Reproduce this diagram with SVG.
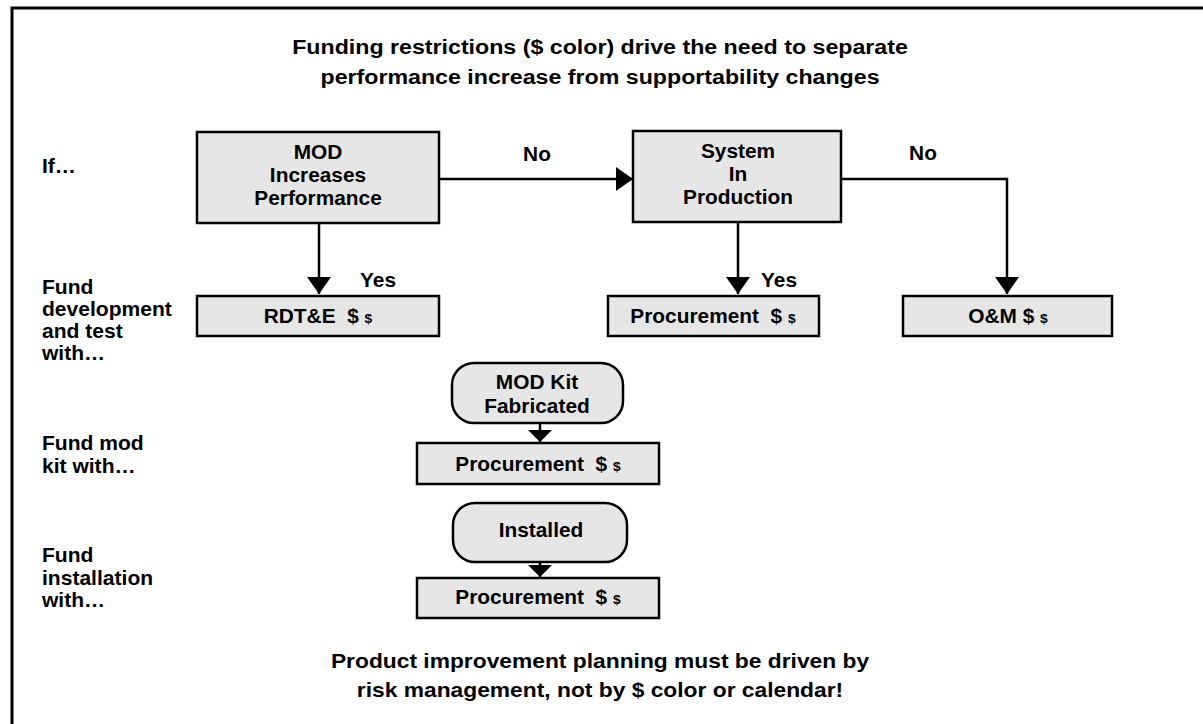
<svg xmlns="http://www.w3.org/2000/svg" width="1203" height="724" viewBox="0 0 1203 724">
<style>
text{font-family:"Liberation Sans",Arial,sans-serif;font-weight:bold;fill:#000;font-size:19.5px}
.c{text-anchor:middle}
.t{font-size:20px}
.box{fill:#e6e6e6;stroke:#000;stroke-width:2.5}
.ln{fill:none;stroke:#000;stroke-width:2.5}
.sm{font-size:13px}
</style>
<defs>
<marker id="ah" viewBox="0 0 17 24" refX="17" refY="12" markerWidth="17" markerHeight="24" markerUnits="userSpaceOnUse" orient="auto">
<path d="M0,0 L17,12 L0,24 Z" fill="#000"/>
</marker>
<marker id="ahs" viewBox="0 0 12 24" refX="12" refY="12" markerWidth="12" markerHeight="24" markerUnits="userSpaceOnUse" orient="auto">
<path d="M0,0 L12,12 L0,24 Z" fill="#000"/>
</marker>
</defs>
<rect x="12" y="8" width="1200" height="730" fill="#fff" stroke="#000" stroke-width="3"/>

<g id="title">
<text class="c t" transform="translate(600,54) scale(1.16,1)">Funding restrictions ($ color) drive the need to separate</text>
<text class="c t" transform="translate(600,84) scale(1.16,1)">performance increase from supportability changes</text>
</g>

<g id="side-labels">
<text transform="translate(42,173) scale(1.08,1)">If…</text>
<text transform="translate(42,294) scale(1.08,1)">Fund</text>
<text transform="translate(42,316) scale(1.08,1)">development</text>
<text transform="translate(42,338) scale(1.08,1)">and test</text>
<text transform="translate(42,360) scale(1.08,1)">with…</text>
<text transform="translate(42,450) scale(1.08,1)">Fund mod</text>
<text transform="translate(42,473) scale(1.08,1)">kit with…</text>
<text transform="translate(42,562) scale(1.08,1)">Fund</text>
<text transform="translate(42,585) scale(1.08,1)">installation</text>
<text transform="translate(42,607) scale(1.08,1)">with…</text>
</g>

<g id="connectors">
<line class="ln" x1="439" y1="179" x2="633" y2="179" marker-end="url(#ah)"/>
<line class="ln" x1="319" y1="223" x2="319" y2="294" marker-end="url(#ah)"/>
<line class="ln" x1="738" y1="222" x2="738" y2="294" marker-end="url(#ah)"/>
<polyline class="ln" points="841,179 1007,179 1007,294" marker-end="url(#ah)"/>
<line class="ln" x1="540" y1="423" x2="540" y2="442" marker-end="url(#ahs)"/>
<line class="ln" x1="540" y1="562" x2="540" y2="577" marker-end="url(#ahs)"/>
<text class="c" transform="translate(537,161) scale(1.07,1)">No</text>
<text class="c" transform="translate(923,160) scale(1.07,1)">No</text>
<text class="c" transform="translate(378,287) scale(1.07,1)">Yes</text>
<text class="c" transform="translate(779,287) scale(1.07,1)">Yes</text>
</g>

<g id="mod-increases">
<rect class="box" x="197" y="132" width="242" height="91"/>
<text class="c" transform="translate(318,159) scale(1.07,1)">MOD</text>
<text class="c" transform="translate(318,182) scale(1.07,1)">Increases</text>
<text class="c" transform="translate(318,205) scale(1.07,1)">Performance</text>
</g>

<g id="system-in-production">
<rect class="box" x="633" y="131" width="208" height="91"/>
<text class="c" transform="translate(738,158) scale(1.07,1)">System</text>
<text class="c" transform="translate(738,181) scale(1.07,1)">In</text>
<text class="c" transform="translate(738,204) scale(1.07,1)">Production</text>
</g>

<g id="rdte">
<rect class="box" x="197" y="296" width="242" height="40"/>
<text class="c" transform="translate(318,323) scale(1.07,1)">RDT&amp;E &#160;$ <tspan class="sm">$</tspan></text>
</g>

<g id="procurement-1">
<rect class="box" x="608" y="296" width="211" height="40"/>
<text class="c" transform="translate(713,323) scale(1.07,1)">Procurement &#160;$ <tspan class="sm">$</tspan></text>
</g>

<g id="om">
<rect class="box" x="903" y="296" width="209" height="40"/>
<text class="c" transform="translate(1008,323) scale(1.07,1)">O&amp;M $ <tspan class="sm">$</tspan></text>
</g>

<g id="mod-kit-fabricated">
<rect class="box" x="452" y="363" width="171" height="60" rx="22" ry="22"/>
<text class="c" transform="translate(537,389) scale(1.07,1)">MOD Kit</text>
<text class="c" transform="translate(537,413) scale(1.07,1)">Fabricated</text>
</g>

<g id="procurement-2">
<rect class="box" x="417" y="443" width="242" height="41"/>
<text class="c" transform="translate(538,471) scale(1.07,1)">Procurement &#160;$ <tspan class="sm">$</tspan></text>
</g>

<g id="installed">
<rect class="box" x="453" y="503" width="174" height="59" rx="22" ry="22"/>
<text class="c" transform="translate(541,537) scale(1.07,1)">Installed</text>
</g>

<g id="procurement-3">
<rect class="box" x="417" y="578" width="242" height="40"/>
<text class="c" transform="translate(538,604) scale(1.07,1)">Procurement &#160;$ <tspan class="sm">$</tspan></text>
</g>

<g id="footer">
<text class="c t" transform="translate(600,668) scale(1.14,1)">Product improvement planning must be driven by</text>
<text class="c t" transform="translate(600,697) scale(1.14,1)">risk management, not by $ color or calendar!</text>
</g>
</svg>
